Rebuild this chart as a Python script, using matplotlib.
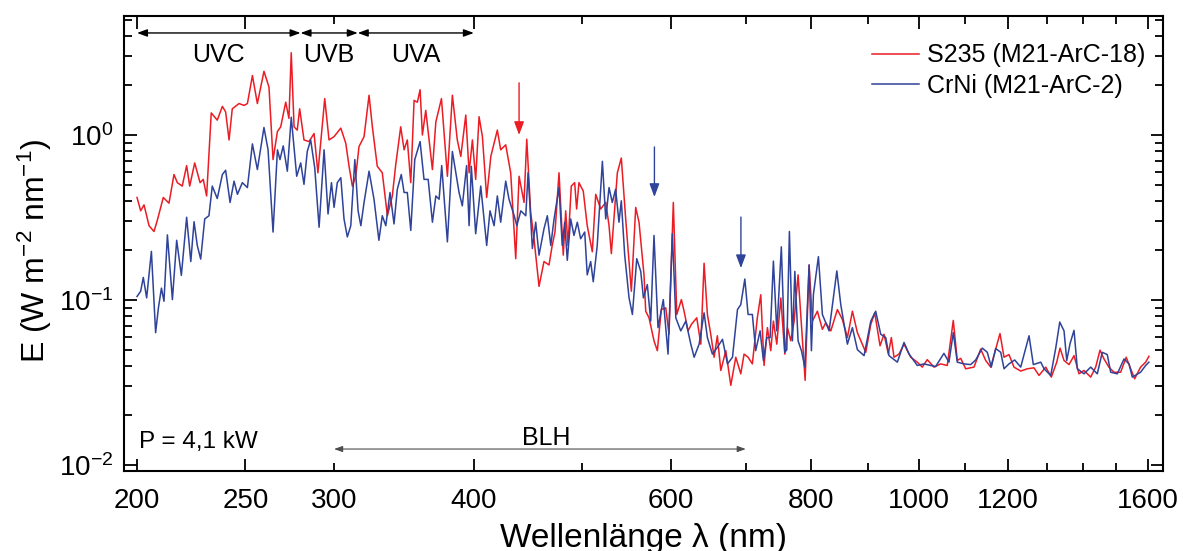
import matplotlib
matplotlib.use("Agg")
import matplotlib.pyplot as plt
from matplotlib.ticker import LogLocator, NullFormatter

plt.rcParams['font.family'] = ['Liberation Sans', 'DejaVu Sans']
plt.rcParams['mathtext.fontset'] = 'custom'
plt.rcParams['mathtext.rm'] = 'Liberation Sans'
plt.rcParams['mathtext.it'] = 'Liberation Sans:italic'

# S235 (M21-ArC-18)
red_wl = [200, 201.5, 202.9, 205.0, 207.1, 208.5, 211.1, 213.6, 215.8, 217.3, 219.5, 221.5, 222.9, 225.2, 227.7,
          229.2, 230.8, 233.0, 235.9, 238.4, 240.0, 241.7, 243.3, 246.7, 249.3, 251.0, 253.6, 256.2, 259.7, 262.4,
          264.6, 267.0, 268.8, 271.6, 273.4, 274.7, 276.3, 278.1, 279.5, 282.0, 284.9, 287.9, 290.2, 294.3, 296.9,
          300.0, 304.2, 307.3, 309.4, 311.5, 313.7, 315.8, 319.1, 322.4, 324.6, 327.9, 331.3, 334.8, 338.2, 340.6,
          344.1, 346.5, 348.8, 351.3, 353.7, 356.1, 358.1, 359.8, 362.3, 367.3, 369.9, 374.2, 378.8, 382.7, 386.6,
          389.4, 393.4, 396.1, 398.8, 401.5, 404.3, 407.1, 410.7, 414.2, 419.8, 422.7, 427.1, 431.5, 436.0, 439.0,
          443.5, 446.0, 449.6, 452.7, 457.4, 462.1, 466.9, 469.8, 472.7, 476.6, 480.8, 483.2, 485.5, 488.8, 492.2,
          494.2, 496.6, 501.0, 505.1, 510.4, 514.0, 519.3, 524.7, 528.3, 530.8, 537.4, 541.8, 546.7, 553.1, 558.1,
          561.9, 567.7, 569.7, 573.6, 579.5, 583.5, 588.3, 593.7, 597.7, 603.0, 607.3, 613.1, 616.5, 621.6, 625.8,
          632.8, 638.1, 642.4, 646.8, 651.3, 655.8, 660.2, 664.9, 671.8, 678.7, 685.7, 692.8, 697.5, 703.3, 709.5,
          716.8, 721.9, 726.8, 731.8, 736.9, 740.9, 746.1, 752.3, 758.5, 762.6, 767.9, 773.2, 779.5, 785.5, 790.9,
          797.4, 802.8, 811.1, 819.5, 825.2, 833.8, 845.2, 853.9, 862.8, 871.7, 880.7, 896.0, 905.3, 912.7, 922.7,
          930.3, 938.6, 944.4, 949.6, 959.4, 969.4, 982.8, 996.3, 1006.5, 1016.9, 1031.0, 1045.3, 1059.6, 1072.8,
          1081.7, 1089.3, 1100.5, 1119.5, 1135.1, 1146.8, 1158.7, 1170.7, 1181.1, 1190.9, 1203.1, 1215.6, 1232.5,
          1249.4, 1266.7, 1279.8, 1297.6, 1312.6, 1327.3, 1336.4, 1347.4, 1361.3, 1375.4, 1389.6, 1404.0, 1423.4,
          1438.1, 1451.0, 1463.0, 1477.8, 1493.1, 1513.9, 1531.4, 1545.4, 1558.1, 1577.4, 1593.8, 1604.6]
red_E = [0.418, 0.347, 0.377, 0.282, 0.260, 0.303, 0.418, 0.386, 0.576, 0.514, 0.490, 0.652, 0.490, 0.677, 0.514,
         0.538, 0.427, 1.36, 1.23, 1.49, 1.38, 0.933, 1.44, 1.55, 1.51, 1.55, 2.29, 1.55, 2.43, 1.95,
         0.709, 1.05, 1.12, 1.58, 1.26, 3.15, 1.12, 1.07, 1.44, 0.933, 0.912, 1.02, 0.590, 1.66, 0.933,
         0.977, 1.10, 0.892, 0.646, 0.490, 0.562, 0.851, 0.977, 1.74, 1.12, 0.646, 0.590, 0.324, 0.427, 0.661,
         1.12, 0.813, 0.933, 0.514, 1.62, 1.58, 1.88, 1.00, 1.41, 0.617, 1.20, 1.66, 0.562, 1.74, 0.933,
         0.741, 1.32, 0.590, 0.933, 0.538, 1.29, 0.977, 0.418, 0.741, 1.07, 0.813, 0.871, 0.590, 0.178, 0.562,
         0.390, 0.942, 0.340, 0.235, 0.121, 0.171, 0.163, 0.211, 0.259, 0.590, 0.187, 0.347, 0.214, 0.490, 0.514,
         0.356, 0.514, 0.457, 0.282, 0.196, 0.437, 0.356, 0.390, 0.282, 0.191, 0.590, 0.725, 0.310, 0.113, 0.364,
         0.296, 0.142, 0.0855, 0.078, 0.0566, 0.0493, 0.0875, 0.0896, 0.0620, 0.390, 0.0817, 0.1005, 0.0855, 0.065, 0.0711,
         0.078, 0.054, 0.167, 0.0817, 0.062, 0.045, 0.0607, 0.0374, 0.0493, 0.0304, 0.045, 0.0357, 0.047, 0.045, 0.041,
         0.078, 0.1076, 0.0401, 0.068, 0.0493, 0.0745, 0.054, 0.1028, 0.047, 0.068, 0.0566, 0.0745, 0.142, 0.065, 0.0326,
         0.163, 0.0745, 0.0855, 0.0664, 0.0728, 0.065, 0.0875, 0.0762, 0.0592, 0.0855, 0.0634, 0.0482, 0.0711, 0.0836, 0.0528,
         0.062, 0.047, 0.0592, 0.045, 0.047, 0.054, 0.045, 0.042, 0.0392, 0.0435, 0.0392, 0.041, 0.0401, 0.0752,
         0.043, 0.0443, 0.0383, 0.0392, 0.0504, 0.043, 0.0392, 0.0504, 0.0626, 0.045, 0.0467, 0.0392, 0.0371,
         0.0383, 0.0388, 0.0349, 0.0392, 0.0341, 0.042, 0.0511, 0.043, 0.0406, 0.046, 0.0357, 0.0374, 0.0341,
         0.0392, 0.0497, 0.0439, 0.0392, 0.0365, 0.0365, 0.045, 0.0383, 0.0333, 0.0392, 0.042, 0.0456]

# CrNi (M21-ArC-2)
blue_wl = [200, 201.5, 202.6, 204.0, 206.0, 207.8, 209.0, 210.3, 211.4, 212.9, 215.1, 217.0, 219.1, 221.5, 223.4,
           224.9, 226.4, 228.0, 229.9, 231.9, 233.5, 235.9, 238.4, 240.0, 242.2, 244.2, 245.9, 248.4, 251.0, 253.6,
           256.2, 259.7, 261.9, 264.6, 267.0, 268.4, 270.2, 272.5, 274.7, 277.8, 280.1, 282.0, 283.9, 285.9, 288.3,
           290.9, 293.9, 296.3, 298.4, 300.0, 302.0, 304.2, 306.2, 308.3, 310.5, 313.1, 315.2, 317.0, 319.1, 322.4,
           325.7, 329.0, 331.3, 333.7, 336.6, 339.4, 341.7, 344.5, 346.5, 348.8, 351.3, 354.2, 358.1, 361.0, 364.1,
           367.3, 369.9, 372.4, 374.4, 378.8, 382.7, 388.0, 390.6, 394.1, 396.1, 397.9, 401.5, 405.7, 410.7, 413.5,
           417.0, 419.8, 422.7, 427.1, 430.0, 434.6, 437.0, 440.6, 445.1, 447.2, 451.2, 454.3, 457.4, 462.1, 465.3,
           468.6, 471.8, 476.6, 479.8, 482.2, 484.8, 488.2, 491.5, 494.9, 498.3, 502.5, 505.1, 508.7, 511.4, 515.6,
           521.1, 524.7, 528.3, 531.8, 535.5, 539.2, 541.8, 545.6, 550.5, 554.3, 559.3, 563.9, 567.0, 571.6, 575.6,
           579.5, 584.3, 590.7, 596.5, 601.8, 606.1, 612.3, 618.7, 625.1, 629.4, 635.9, 642.4, 646.8, 653.5, 660.2,
           667.2, 674.1, 681.1, 688.1, 692.8, 698.6, 703.3, 709.5, 714.4, 720.9, 725.8, 730.9, 735.9, 740.9, 746.1,
           749.6, 753.1, 758.5, 761.6, 765.7, 770.5, 774.3, 779.5, 784.9, 790.4, 797.4, 801.2, 804.5, 812.8, 819.5,
           825.2, 830.9, 844.2, 851.1, 862.8, 871.7, 880.7, 892.9, 905.3, 914.5, 924.0, 933.6, 939.9, 956.2, 969.4,
           979.6, 996.3, 1009.9, 1023.9, 1034.5, 1052.4, 1063.3, 1072.8, 1081.7, 1096.7, 1111.9, 1123.4, 1138.8,
           1150.6, 1160.1, 1170.7, 1182.9, 1190.9, 1203.1, 1217.3, 1232.5, 1253.8, 1264.9, 1284.4, 1293.1, 1311.1,
           1324.6, 1335.6, 1347.4, 1355.0, 1364.3, 1375.4, 1384.8, 1404.0, 1423.4, 1442.9, 1457.7, 1472.8, 1483.2,
           1503.5, 1524.4, 1540.2, 1550.6, 1577.4, 1593.8, 1604.6]
blue_E = [0.105, 0.113, 0.137, 0.103, 0.197, 0.0634, 0.0896, 0.118, 0.0982, 0.248, 0.1005, 0.230, 0.141, 0.317, 0.171,
          0.298, 0.214, 0.177, 0.310, 0.324, 0.490, 0.412, 0.576, 0.611, 0.390, 0.525, 0.437, 0.514, 0.480, 0.883,
          0.617, 1.11, 0.813, 0.258, 0.813, 0.709, 0.859, 0.603, 1.28, 0.562, 0.677, 0.502, 0.794, 0.933, 0.632,
          0.276, 0.813, 0.332, 0.514, 0.364, 0.514, 0.551, 0.310, 0.241, 0.282, 0.709, 0.347, 0.282, 0.390, 0.603,
          0.408, 0.230, 0.324, 0.282, 0.448, 0.289, 0.469, 0.576, 0.448, 0.448, 0.264, 0.709, 0.912, 0.538, 0.538,
          0.296, 0.427, 0.408, 0.652, 0.225, 0.794, 0.448, 0.372, 0.652, 0.282, 0.646, 0.252, 0.490, 0.214, 0.347,
          0.282, 0.427, 0.296, 0.525, 0.408, 0.324, 0.282, 0.347, 0.324, 0.590, 0.205, 0.296, 0.187, 0.270, 0.324,
          0.214, 0.310, 0.480, 0.214, 0.296, 0.174, 0.310, 0.246, 0.296, 0.235, 0.258, 0.142, 0.171, 0.129, 0.214,
          0.692, 0.310, 0.480, 0.390, 0.469, 0.296, 0.399, 0.187, 0.103, 0.0817, 0.178, 0.149, 0.103, 0.124, 0.0745,
          0.246, 0.068, 0.1005, 0.047, 0.252, 0.078, 0.065, 0.0745, 0.054, 0.045, 0.054, 0.0836, 0.0592, 0.047, 0.0516,
          0.0578, 0.041, 0.045, 0.0875, 0.0937, 0.134, 0.0817, 0.0817, 0.0493, 0.065, 0.043, 0.0592, 0.0592, 0.172, 0.065,
          0.115, 0.210, 0.0482, 0.050, 0.260, 0.0566, 0.149, 0.0566, 0.0493, 0.0392, 0.163, 0.0493, 0.108, 0.183, 0.0817,
          0.0728, 0.065, 0.150, 0.0937, 0.054, 0.068, 0.050, 0.046, 0.0745, 0.0855, 0.062, 0.0592, 0.046, 0.042, 0.0553,
          0.047, 0.0401, 0.041, 0.0401, 0.0395, 0.0475, 0.042, 0.0634, 0.042, 0.041, 0.0406, 0.0433, 0.0511,
          0.0482, 0.0392, 0.0508, 0.0482, 0.0383, 0.041, 0.0433, 0.0392, 0.0607, 0.0406, 0.042, 0.0383, 0.0349,
          0.0511, 0.0735, 0.065, 0.043, 0.0545, 0.0655, 0.0383, 0.0357, 0.0392, 0.0357, 0.0482, 0.0467, 0.0365,
          0.0357, 0.0439, 0.041, 0.0341, 0.0365, 0.0401, 0.042]

series_labels = ['S235 (M21-ArC-18)', 'CrNi (M21-ArC-2)']
major_ticks = [200, 250, 400, 600, 800, 1000, 1200, 1600]
minor_ticks = [300, 500, 700, 900, 1100, 1300, 1400, 1500]
minor_labels = ['300', '', '', '', '', '', '', '']

# UV bands (nm) and the BLH range
uv_bands = [('UVC', 200, 280), ('UVB', 280, 315), ('UVA', 315, 400)]
blh_range = (300, 700)

RED = '#ec1c24'
BLUE = '#2e4399'

fig = plt.figure(figsize=(11.83, 5.51), dpi=100)
ax = fig.add_axes([0.1048, 0.1452, 0.8781, 0.8258])

ax.plot(red_wl, red_E, color=RED, lw=1.1, label=series_labels[0])
ax.plot(blue_wl, blue_E, color=BLUE, lw=1.1, label=series_labels[1])

ax.set_xscale('log')
ax.set_yscale('log')
ax.set_xlim(194.7, 1651)
ax.set_ylim(0.0092, 5.26)

ax.set_xticks(major_ticks)
ax.set_xticklabels([str(t) for t in major_ticks])
ax.set_xticks(minor_ticks, minor=True)
ax.set_xticklabels(minor_labels, minor=True)
ax.yaxis.set_major_locator(LogLocator(base=10, numticks=10))
ax.yaxis.set_minor_locator(LogLocator(base=10, subs=range(2, 10), numticks=10))
ax.yaxis.set_minor_formatter(NullFormatter())

ax.tick_params(which='both', direction='in', top=True, right=True, labelsize=20, width=1.3)
ax.tick_params(which='major', length=9)
ax.tick_params(which='minor', length=6)
ax.tick_params(axis='x', which='both', pad=12)
ax.tick_params(axis='y', which='both', pad=8)
for s in ax.spines.values():
    s.set_linewidth(1.5)

ax.set_xlabel('Wellenlänge λ (nm)', fontsize=24)
ax.xaxis.set_label_coords(0.5, -0.114)
ax.set_ylabel('E (W m$^{-2}$ nm$^{-1}$)', fontsize=23)
ax.yaxis.set_label_coords(-0.067, 0.483)

# UV band arrows on top
for name, lo, hi in uv_bands:
    ax.annotate('', xy=(hi, 4.15), xytext=(lo, 4.15),
                arrowprops=dict(arrowstyle='<|-|>,head_length=0.6,head_width=0.22', color='black', lw=1.0,
                                shrinkA=0, shrinkB=0))
    ax.text((lo * hi) ** 0.5, 3.05, name, fontsize=18, ha='center', va='center')

# BLH range
ax.annotate('', xy=(blh_range[1], 0.0125), xytext=(blh_range[0], 0.0125),
            arrowprops=dict(arrowstyle='<|-|>,head_length=0.5,head_width=0.18', color='0.3', lw=0.8,
                            shrinkA=0, shrinkB=0))
ax.text(464, 0.0146, 'BLH', fontsize=18, ha='center', va='center')
ax.text(201, 0.0137, 'P = 4,1 kW', fontsize=17.5, ha='left', va='center')

# markers for the lines of interest
ax.annotate('', xy=(439, 1.0), xytext=(439, 2.07),
            arrowprops=dict(arrowstyle='-|>,head_length=0.8,head_width=0.3', color=RED, lw=1.0,
                            shrinkA=0, shrinkB=0))
ax.annotate('', xy=(580, 0.421), xytext=(580, 0.846),
            arrowprops=dict(arrowstyle='-|>,head_length=0.8,head_width=0.3', color=BLUE, lw=1.0,
                            shrinkA=0, shrinkB=0))
ax.annotate('', xy=(693, 0.156), xytext=(693, 0.318),
            arrowprops=dict(arrowstyle='-|>,head_length=0.8,head_width=0.3', color=BLUE, lw=1.0,
                            shrinkA=0, shrinkB=0))

ax.legend(loc='upper right', bbox_to_anchor=(0.9836, 0.94), frameon=False, fontsize=18,
          handlelength=1.85, handletextpad=0.35, labelspacing=0.27, borderpad=0, borderaxespad=0)

fig.savefig('out.png', dpi=100)
